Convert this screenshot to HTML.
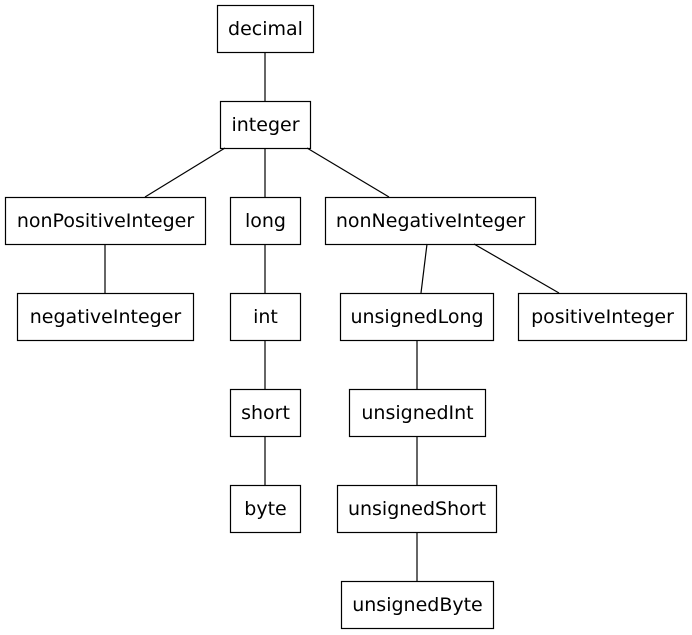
<!DOCTYPE html>
<html><head><meta charset="utf-8"><style>
html,body{margin:0;padding:0;background:#fff;}
svg{display:block;}
text{font-family:"DejaVu Sans",sans-serif;font-size:19px;fill:#000;}
</style></head><body>
<svg width="692" height="635" viewBox="0 0 692 635" xmlns="http://www.w3.org/2000/svg">
<g stroke="#000" stroke-width="1.2" fill="none">
<line x1="265" y1="52" x2="265" y2="101"/>
<line x1="225" y1="148" x2="145" y2="197"/>
<line x1="265" y1="148" x2="265" y2="197"/>
<line x1="307" y1="148" x2="389" y2="197"/>
<line x1="105" y1="244" x2="105" y2="293"/>
<line x1="265" y1="244" x2="265" y2="293"/>
<line x1="265" y1="340" x2="265" y2="389"/>
<line x1="265" y1="436" x2="265" y2="485"/>
<line x1="427" y1="244" x2="421" y2="293"/>
<line x1="474" y1="244" x2="559" y2="293"/>
<line x1="417" y1="340" x2="417" y2="389"/>
<line x1="417" y1="436" x2="417" y2="485"/>
<line x1="417" y1="532" x2="417" y2="581"/>
<rect x="217.5" y="5.5" width="96" height="47"/>
<rect x="220.5" y="101.5" width="90" height="47"/>
<rect x="5.5" y="197.5" width="200" height="47"/>
<rect x="230.5" y="197.5" width="70" height="47"/>
<rect x="325.5" y="197.5" width="210" height="47"/>
<rect x="17.5" y="293.5" width="176" height="47"/>
<rect x="230.5" y="293.5" width="70" height="47"/>
<rect x="340.5" y="293.5" width="153" height="47"/>
<rect x="518.5" y="293.5" width="168" height="47"/>
<rect x="230.5" y="389.5" width="70" height="47"/>
<rect x="349.5" y="389.5" width="136" height="47"/>
<rect x="230.5" y="485.5" width="70" height="47"/>
<rect x="337.5" y="485.5" width="159" height="47"/>
<rect x="341.5" y="581.5" width="152" height="47"/>
</g>
<g text-anchor="middle">
<text x="265.5" y="35">decimal</text>
<text x="265.5" y="131">integer</text>
<text x="105.5" y="227">nonPositiveInteger</text>
<text x="265.5" y="227">long</text>
<text x="430.5" y="227">nonNegativeInteger</text>
<text x="105.5" y="323">negativeInteger</text>
<text x="265.5" y="323">int</text>
<text x="417" y="323">unsignedLong</text>
<text x="602.5" y="323">positiveInteger</text>
<text x="265.5" y="419">short</text>
<text x="417.5" y="419">unsignedInt</text>
<text x="265.5" y="515">byte</text>
<text x="417" y="515">unsignedShort</text>
<text x="417.5" y="611">unsignedByte</text>
</g>
</svg>
</body></html>
